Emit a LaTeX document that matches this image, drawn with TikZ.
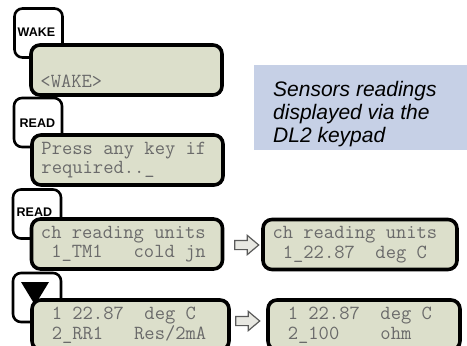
\documentclass[tikz,border=0pt]{standalone}
\usepackage{fontspec}
\setmainfont{Liberation Sans}
\usetikzlibrary{shapes.arrows,positioning}
\definecolor{lcdFill}{HTML}{DCDFCB}
\definecolor{lcdText}{HTML}{6A6A6A}
\definecolor{noteFill}{HTML}{C6D0E6}
\definecolor{arrGray}{HTML}{5A5A5A}
\definecolor{arrFill}{HTML}{E8E8E2}
\newcommand{\lsp}{\hphantom{0}}
\tikzset{
  keybox/.style={draw, line width=2.6pt, rounded corners=8pt, fill=white,
    minimum width=48pt, minimum height=49pt, inner sep=0pt},
  keytag/.style={font=\fontsize{12.5}{13}\selectfont\bfseries, inner sep=0pt, anchor=west},
  lcd/.style={draw, line width=3.6pt, rounded corners=9pt, fill=lcdFill,
    minimum height=50pt, inner xsep=9.5pt, inner ysep=0pt, text width=#1,
    align=left, text=lcdText, font=\ttfamily\fontsize{20}{19.5}\selectfont},
  lcd/.default=172pt,
  chevron/.style={single arrow, draw=arrGray, fill=arrFill, line width=1.2pt,
    minimum height=24pt, inner xsep=0pt, inner ysep=4pt,
    single arrow head extend=5pt, single arrow tip angle=80},
  note/.style={font=\fontsize{21}{23}\selectfont\itshape, align=left, inner sep=0pt, anchor=north west}
}
\begin{document}
\begin{tikzpicture}[x=1pt, y=-1pt]
  \useasboundingbox (0,0) rectangle (467,346);
  \node[keybox] (k1) at (38.5,33) {};
  \node[keybox] (k2) at (38,122.5) {};
  \node[keybox] (k3) at (37,214) {};
  \node[keybox] (k4) at (37,297.5) {};
  \node[keytag] (k1t) at (17.5,32) {WAKE};
  \node[keytag] (k2t) at (19.5,123) {READ};
  \node[keytag] (k3t) at (16.5,212) {READ};
  \fill (21,282) -- (49,282) -- (35,305) -- cycle;

  \node[lcd] (d1) at (126.5,70) {\strut\\[8pt]<WAKE>\strut};
  \node[lcd] (d2) at (127.5,160) {Press\lsp any\lsp key\lsp if\\required..\_};
  \node[lcd] (d3) at (127,244) {ch\lsp reading\lsp units\\\lsp 1\_TM1\lsp\lsp\lsp cold\lsp jn};
  \node[lcd=175pt] (d4) at (360,244.5) {ch\lsp reading\lsp units\\\lsp 1\_22.87\lsp\lsp deg\lsp C};
  \node[lcd=178pt] (d5) at (130.5,325) {\lsp 1\lsp 22.87\lsp\lsp deg\lsp C\\\lsp 2\_RR1\lsp\lsp\lsp Res/2mA};
  \node[lcd=173pt] (d6) at (364,325) {\lsp 1\lsp 22.87\lsp\lsp deg\lsp C\\\lsp 2\_100\lsp\lsp\lsp\lsp ohm};

  \node[chevron] (a1) at (244,245) {};
  \node[chevron] (a2) at (245,321) {};

  \fill[noteFill] (254,65) rectangle (467,150);
  \node[note] (memo) at (273,81) {Sensors readings\\displayed via the\\DL2 keypad};
\end{tikzpicture}
\end{document}
